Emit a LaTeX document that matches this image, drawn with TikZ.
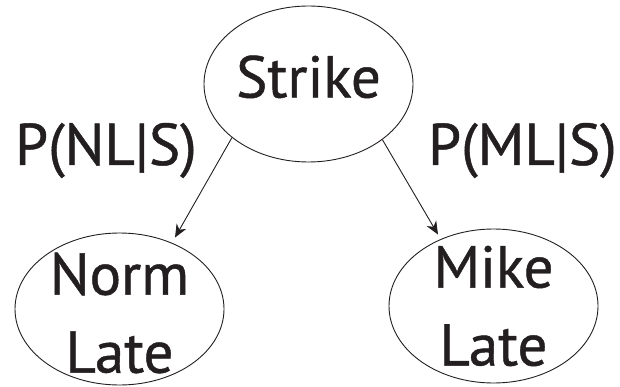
\documentclass[tikz,border=0pt]{standalone}
\usepackage{fontspec}
\setmainfont[FakeBold=0.8,AutoFakeBold=0]{PT Sans}
\usetikzlibrary{shapes.geometric,arrows.meta}
\definecolor{ink}{HTML}{231F20}
\begin{document}
\begin{tikzpicture}[x=1pt,y=-1pt,
  state/.style={ellipse,draw=ink,text=ink,line width=0.9pt,inner sep=-20pt,
    minimum width=209pt,minimum height=154pt,align=center,
    font=\fontsize{59}{78}\selectfont},
  link/.style={draw=ink,line width=0.9pt,
    -{Stealth[length=13pt,width=11pt,inset=4pt]}},
  prob/.style={anchor=base west,inner sep=0pt,text=ink,
    font=\fontsize{59}{59}\selectfont}]
\useasboundingbox (0,0) rectangle (620,387);

% the three events
\node[state,minimum height=156pt,text depth=15pt] (strike) at (308.5,84) {Strike};
\node[state,minimum height=152pt,text height=128pt] (norm) at (119.5,309) {Norm\\Late};
\node[state] (mike) at (493.5,306) {Mike\\Late};

% arrow tips stop short of the child ellipses
\coordinate (nlTip) at ([shift={(55.5pt,-5pt)}]norm.north);
\coordinate (mlTip) at ([shift={(-55.5pt,-6pt)}]mike.north);
\draw[link] (strike.215.6) -- (nlTip);
\draw[link] (strike.323.8) -- (mlTip);

% conditional probabilities
\node[prob] (pnl) at (15,165) {P(NL|S)};
\node[prob] (pml) at (428,165) {P(ML|S)};
\end{tikzpicture}
\end{document}
